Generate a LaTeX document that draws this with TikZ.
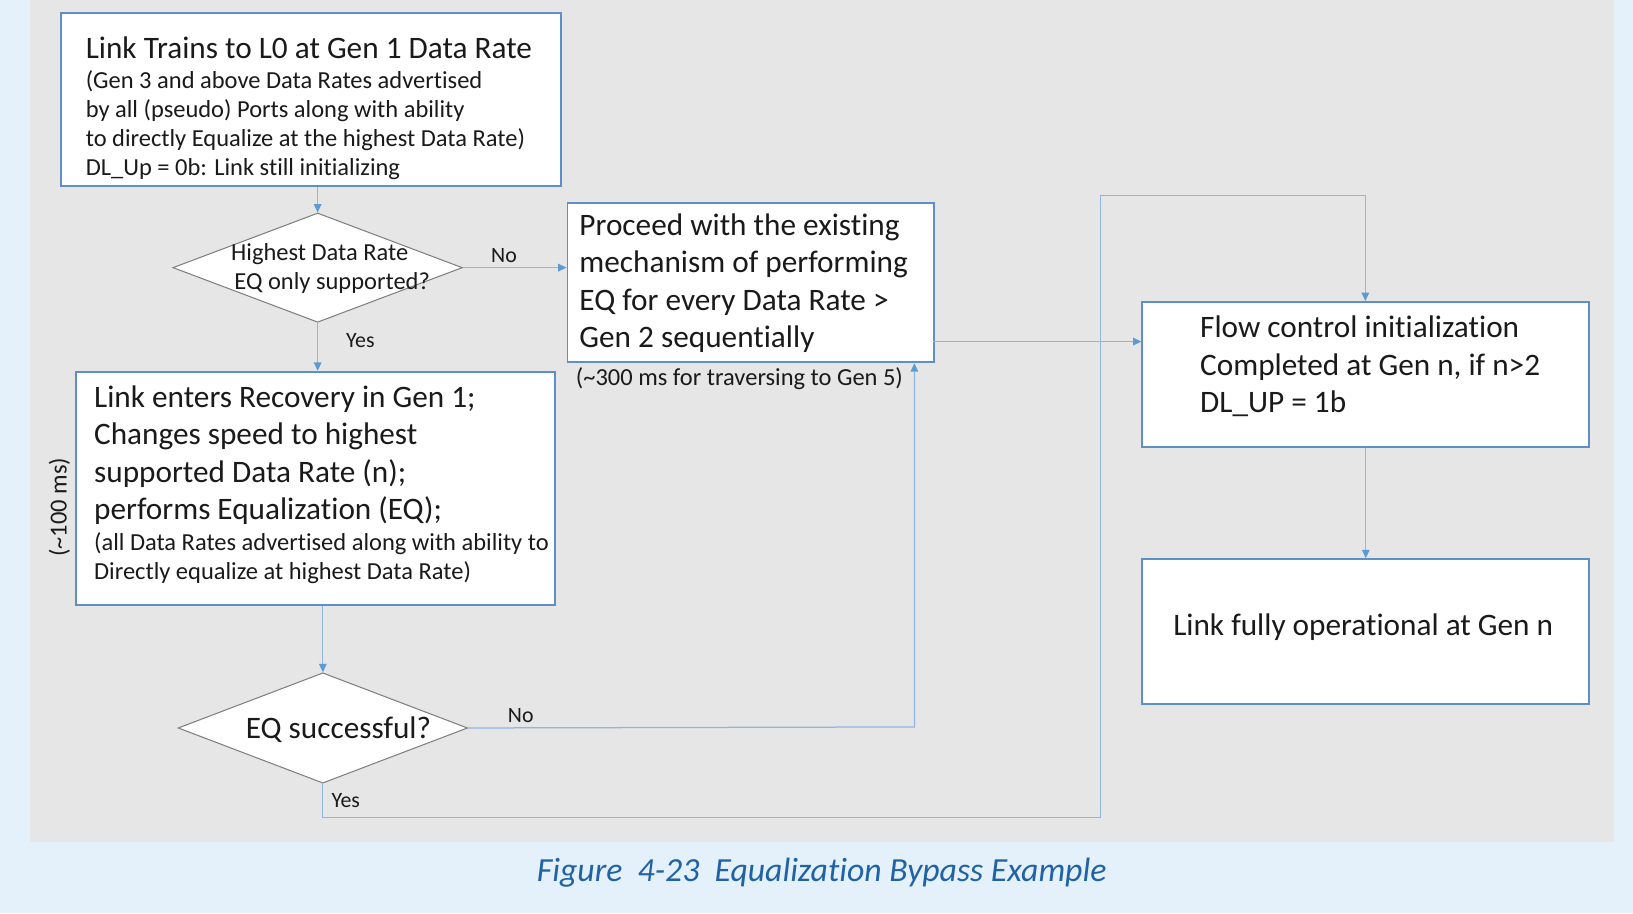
\documentclass[tikz,border=0pt]{standalone}
\usepackage{fontspec}
\setmainfont{Carlito}[Ligatures=NoCommon]
\usetikzlibrary{shapes.geometric,arrows.meta,calc}
\definecolor{pagebg}{HTML}{E4F1FB}
\definecolor{panel}{HTML}{E6E6E6}
\definecolor{boxline}{HTML}{5F8FC8}
\definecolor{connc}{HTML}{8DB6E3}
\definecolor{tipc}{HTML}{5B9BD5}
\definecolor{dialine}{HTML}{7F7F7F}
\definecolor{txtc}{HTML}{1A1A1A}
\definecolor{capc}{HTML}{2062A6}
\begin{document}
\begin{tikzpicture}[x=0.5pt,y=-0.5pt,
  box/.style={draw=boxline,line width=0.9pt,fill=white,inner sep=0pt,anchor=north west},
  dia/.style={diamond,draw=dialine,line width=0.5pt,fill=white,inner sep=0pt},
  big/.style={inner sep=0pt,text=txtc,align=left,font=\fontsize{15}{18}\selectfont},
  small/.style={inner sep=0pt,text=txtc,align=left,font=\fontsize{11.75}{14}\selectfont},
  lbl/.style={inner sep=0pt,text=txtc,font=\fontsize{10.5}{13}\selectfont},
  conn/.style={draw=connc,line width=0.6pt},
  arr/.style={conn,-{Triangle[length=4pt,width=3.6pt,fill=tipc,color=tipc]}}
]
% background and panel
\fill[pagebg] (0,0) rectangle (1568,877);
\fill[panel] (29,0) rectangle (1550,808);

% boxes
\node[box,minimum width=240pt,minimum height=83pt] (A) at (58,12) {};
\node[box,minimum width=176pt,minimum height=76.5pt] (P) at (544,194) {};
\node[box,minimum width=230pt,minimum height=112pt] (B) at (72,356) {};
\node[box,minimum width=214.5pt,minimum height=69.5pt] (F) at (1096,289) {};
\node[box,minimum width=214.5pt,minimum height=69.5pt] (L) at (1096,536) {};

% diamonds
\node[dia,minimum width=139pt,minimum height=52.5pt] (D1) at (305,257) {};
\node[dia,minimum width=139pt,minimum height=53pt] (D2) at (310,699) {};

% texts
\node[big,anchor=west] (At) at (82,46) {Link Trains to L0 at Gen 1 Data Rate};
\node[small,anchor=west] (Ab) at (82,120) {(Gen 3 and above Data Rates advertised\\by all (pseudo) Ports along with ability\\to directly Equalize at the highest Data Rate)\\DL\_Up = 0b: Link still initializing};
\node[small,align=center] (D1t) at (307,258) {Highest Data Rate\\\hspace*{12pt}EQ only supported?};
\node[big,anchor=west] (Pt) at (556,272) {Proceed with the existing\\mechanism of performing\\EQ for every Data Rate >\\Gen 2 sequentially};
\node[small] (Pn) at (710,364) {(\textasciitilde300 ms for traversing to Gen 5)};
\node[big,anchor=west] (Bt) at (90,437) {Link enters Recovery in Gen 1;\\Changes speed to highest\\supported Data Rate (n);\\performs Equalization (EQ);};
\node[small,anchor=west] (Bb) at (90,536) {(all Data Rates advertised along with ability to\\Directly equalize at highest Data Rate)};
\node[small,rotate=90] (Bn) at (57,487) {(\textasciitilde100 ms)};
\node[big] (D2t) at (325,701) {EQ successful?};
\node[big,anchor=west] (Ft) at (1152,352) {Flow control initialization\\Completed at Gen n, if n>2\\DL\_UP = 1b};
\node[big] (Lt) at (1309,602) {Link fully operational at Gen n};

% connector labels
\node[lbl] (no1) at (484,245) {No};
\node[lbl] (yes1) at (346,327) {Yes};
\node[lbl] (no2) at (500,687) {No};
\node[lbl] (yes2) at (332,769) {Yes};

% helper coordinates
\coordinate (nx) at (878,698);
\coordinate (yb) at (310,785);
\coordinate (yr) at (1057,785);
\coordinate (yt) at (1057,188);
\coordinate (ft) at (1311,188);
\coordinate (pf) at (896,328);

% connectors
\draw[arr] (D1.north |- A.south) -- (D1.north);
\draw[arr] (D1.east) -- (D1.east -| P.west);
\draw[arr] (D1.south) -- (D1.south |- B.north);
\draw[arr] (D2.north |- B.south) -- (D2.north);
\draw[arr] (D2.east) -- (nx) -- (nx |- P.south);
\draw[arr] (D2.south) -- (yb) -- (yr) -- (yt) -- (ft) -- (ft |- F.north);
\draw[arr] (pf) -- (pf -| F.west);
\draw[arr] (F.south) -- (L.north);

% caption
\node[inner sep=0pt,text=capc,font=\fontsize{16.2}{19}\selectfont\itshape] (cap) at (789,838) {Figure\ \ 4-23\ \ Equalization Bypass Example};
\end{tikzpicture}
\end{document}
